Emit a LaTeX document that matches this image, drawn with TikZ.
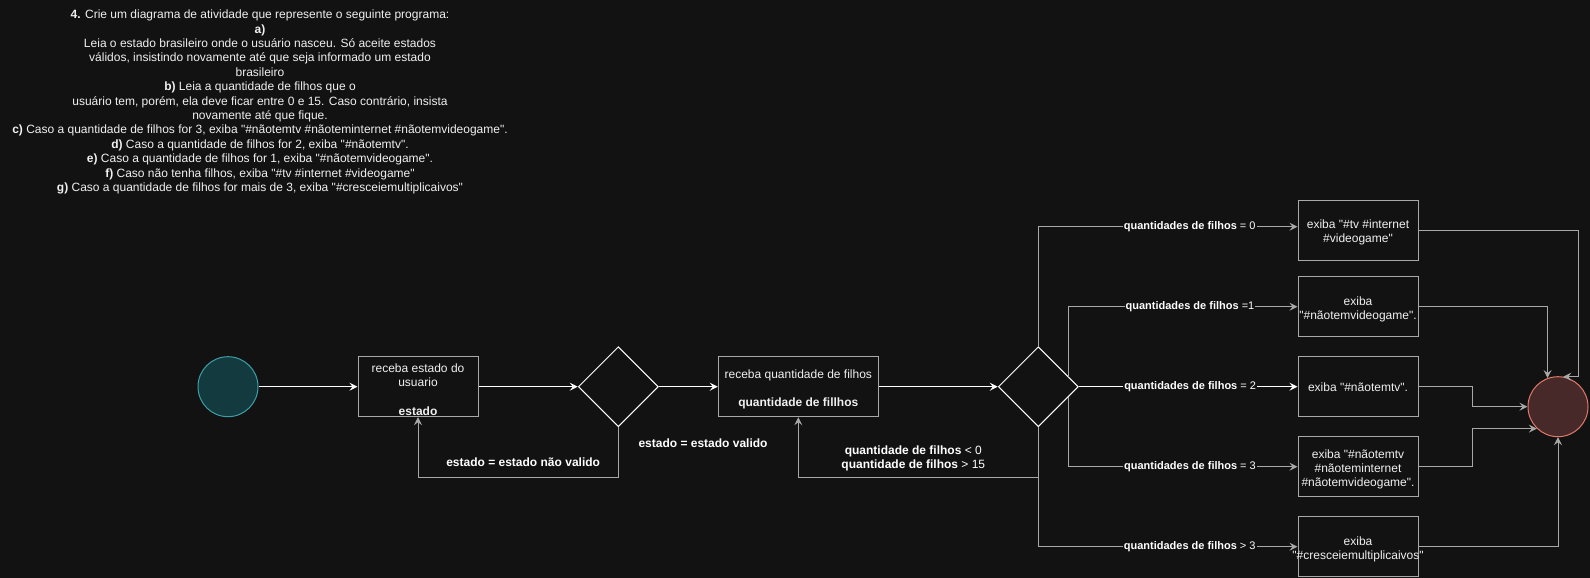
\documentclass[tikz,border=0pt]{standalone}
\usepackage{fontspec}
\setmainfont{Liberation Sans}[Ligatures=TeXOff]
\usepackage{xcolor}
\usepackage{tikz}
\usetikzlibrary{calc,arrows.meta,shapes.geometric}
\definecolor{fundo}{HTML}{121212}
\definecolor{texto}{HTML}{F0F0F0}
\definecolor{linha}{HTML}{A8A8A8}
\definecolor{branco}{HTML}{FFFFFF}
\definecolor{iniF}{HTML}{133B3F}
\definecolor{iniD}{HTML}{3C9FA6}
\definecolor{fimF}{HTML}{482929}
\definecolor{fimD}{HTML}{E07868}
\newcommand{\topo}{\rule{0pt}{14pt}}
\tikzset{
  acao/.style={draw=linha, line width=1pt, fill=fundo, text=texto, minimum width=120pt, minimum height=60pt, inner xsep=1pt, inner ysep=0pt, align=center},
  dec/.style={diamond, draw=branco, line width=1pt, fill=fundo, minimum width=80pt, minimum height=80pt, inner sep=0pt},
  ini/.style={circle, draw=iniD, fill=iniF, line width=1pt, minimum size=60pt, inner sep=0pt},
  fim/.style={circle, draw=fimD, fill=fimF, line width=1pt, minimum size=60pt, inner sep=0pt},
  fluxo/.style={draw=branco, line width=1pt, -{Stealth[length=8pt,width=8pt,inset=3pt]}},
  volta/.style={draw=linha, line width=1pt, -{Stealth[length=8pt,width=8pt,inset=3pt]}},
  rot/.style={text=branco, font=\bfseries, inner sep=1pt, align=center},
  rotf/.style={text=branco, fill=fundo, inner sep=1pt, font=\fontsize{11}{13.2}\selectfont},
}

\begin{document}
\fontsize{12}{14.4}\selectfont
\begin{tikzpicture}[x=1pt, y=-1pt]
  \useasboundingbox (0,0) rectangle (1590,578);
  \fill[fundo] (0,0) rectangle (1590,578);
  \node[text=texto, align=center, inner sep=0pt] (enunciado) at (260,102) {\textbf{4.} Crie um diagrama de atividade que represente o seguinte programa:\\
    \textbf{a)}\\
    Leia o estado brasileiro onde o usuário nasceu. Só aceite estados\\
    válidos, insistindo novamente até que seja informado um estado\\
    brasileiro\\
    \textbf{b)} Leia a quantidade de filhos que o\\
    usuário tem, porém, ela deve ficar entre 0 e 15. Caso contrário, insista\\
    novamente até que fique.\\
    \textbf{c)} Caso a quantidade de filhos for 3, exiba "\#nãotemtv \#nãoteminternet \#nãotemvideogame".\\
    \textbf{d)} Caso a quantidade de filhos for 2, exiba "\#nãotemtv".\\
    \textbf{e)} Caso a quantidade de filhos for 1, exiba "\#nãotemvideogame".\\
    \textbf{f)} Caso não tenha filhos, exiba "\#tv \#internet \#videogame"\\
    \textbf{g)} Caso a quantidade de filhos for mais de 3, exiba "\#cresceiemultiplicaivos"};

  \node[ini] (inicio) at (228,386.7) {};
  \node[acao] (estado) at (418,386.7) {\topo receba estado do\\usuario\\[14.4pt]\textbf{estado}};
  \node[dec] (testeEstado) at (618.3,386.7) {};
  \node[acao, minimum width=160pt] (filhos) at (798.3,386.7) {\topo receba quantidade de filhos\\[14.4pt]\textbf{quantidade de fillhos}};
  \node[dec] (testeFilhos) at (1038.3,386.7) {};
  \node[acao] (exibe0) at (1358,230) {\topo exiba "\#tv \#internet\\\#videogame"};
  \node[acao] (exibe1) at (1358,306.7) {\topo exiba\\"\#nãotemvideogame".};
  \node[acao] (exibe2) at (1358,386.7) {\rule{0pt}{10.6pt}exiba "\#nãotemtv".};
  \node[acao] (exibe3) at (1358,466.7) {\topo exiba "\#nãotemtv\\\#nãoteminternet\\\#nãotemvideogame".};
  \node[acao] (exibe4) at (1358,546.7) {\topo exiba\\\makebox[0pt]{"\#cresceiemultiplicaivos"}};
  \node[fim] (fim) at (1558,406.7) {};

  \draw[fluxo] (inicio) -- (estado);
  \draw[fluxo] (estado) -- (testeEstado);
  \draw[fluxo] (testeEstado) -- node[rot, pos=0.75, yshift=-56.5pt] {estado = estado valido} (filhos);
  \draw[volta] (testeEstado.south) -- ++(0,50) -| node[rot, pos=0.25, xshift=5pt, yshift=14.5pt] {estado = estado não valido} (estado.south);
  \draw[fluxo] (filhos) -- (testeFilhos);
  \draw[volta] (testeFilhos.south) -- ++(0,50) -| node[rot, pos=0.25, xshift=-5pt, yshift=18.8pt] {quantidade de filhos \textmd{< 0}\\quantidade de filhos \textmd{> 15}} (filhos.south);

  \draw[volta] (testeFilhos.north) |- node[rotf, pos=0.792] {\textbf{quantidades de filhos} = 0} ([yshift=3.3pt]exibe0.west);
  \draw[volta] ($(testeFilhos.east)!0.25!(testeFilhos.north)$) |- node[rotf, pos=0.765] {\textbf{quantidades de filhos} =1} (exibe1.west);
  \draw[fluxo] (testeFilhos) -- node[rotf, pos=0.509] {\textbf{quantidades de filhos} = 2} (exibe2);
  \draw[volta] ($(testeFilhos.east)!0.25!(testeFilhos.south)$) |- node[rotf, pos=0.765] {\textbf{quantidades de filhos} = 3} (exibe3.west);
  \draw[volta] (testeFilhos.south) |- node[rotf, pos=0.792] {\textbf{quantidades de filhos} > 3} (exibe4.west);

  \draw[volta] (exibe0.east) -| ($(fim.80)+(15,0)$) -- (fim.80);
  \draw[volta] (exibe1.east) -| (fim.110);
  \draw[volta] (exibe2.east) -- ++(54.4,0) |- (fim.west);
  \draw[volta] (exibe3.east) -- ++(54.4,0) |- (fim.226);
  \draw[volta] (exibe4.east) -| (fim.south);
\end{tikzpicture}
\end{document}
